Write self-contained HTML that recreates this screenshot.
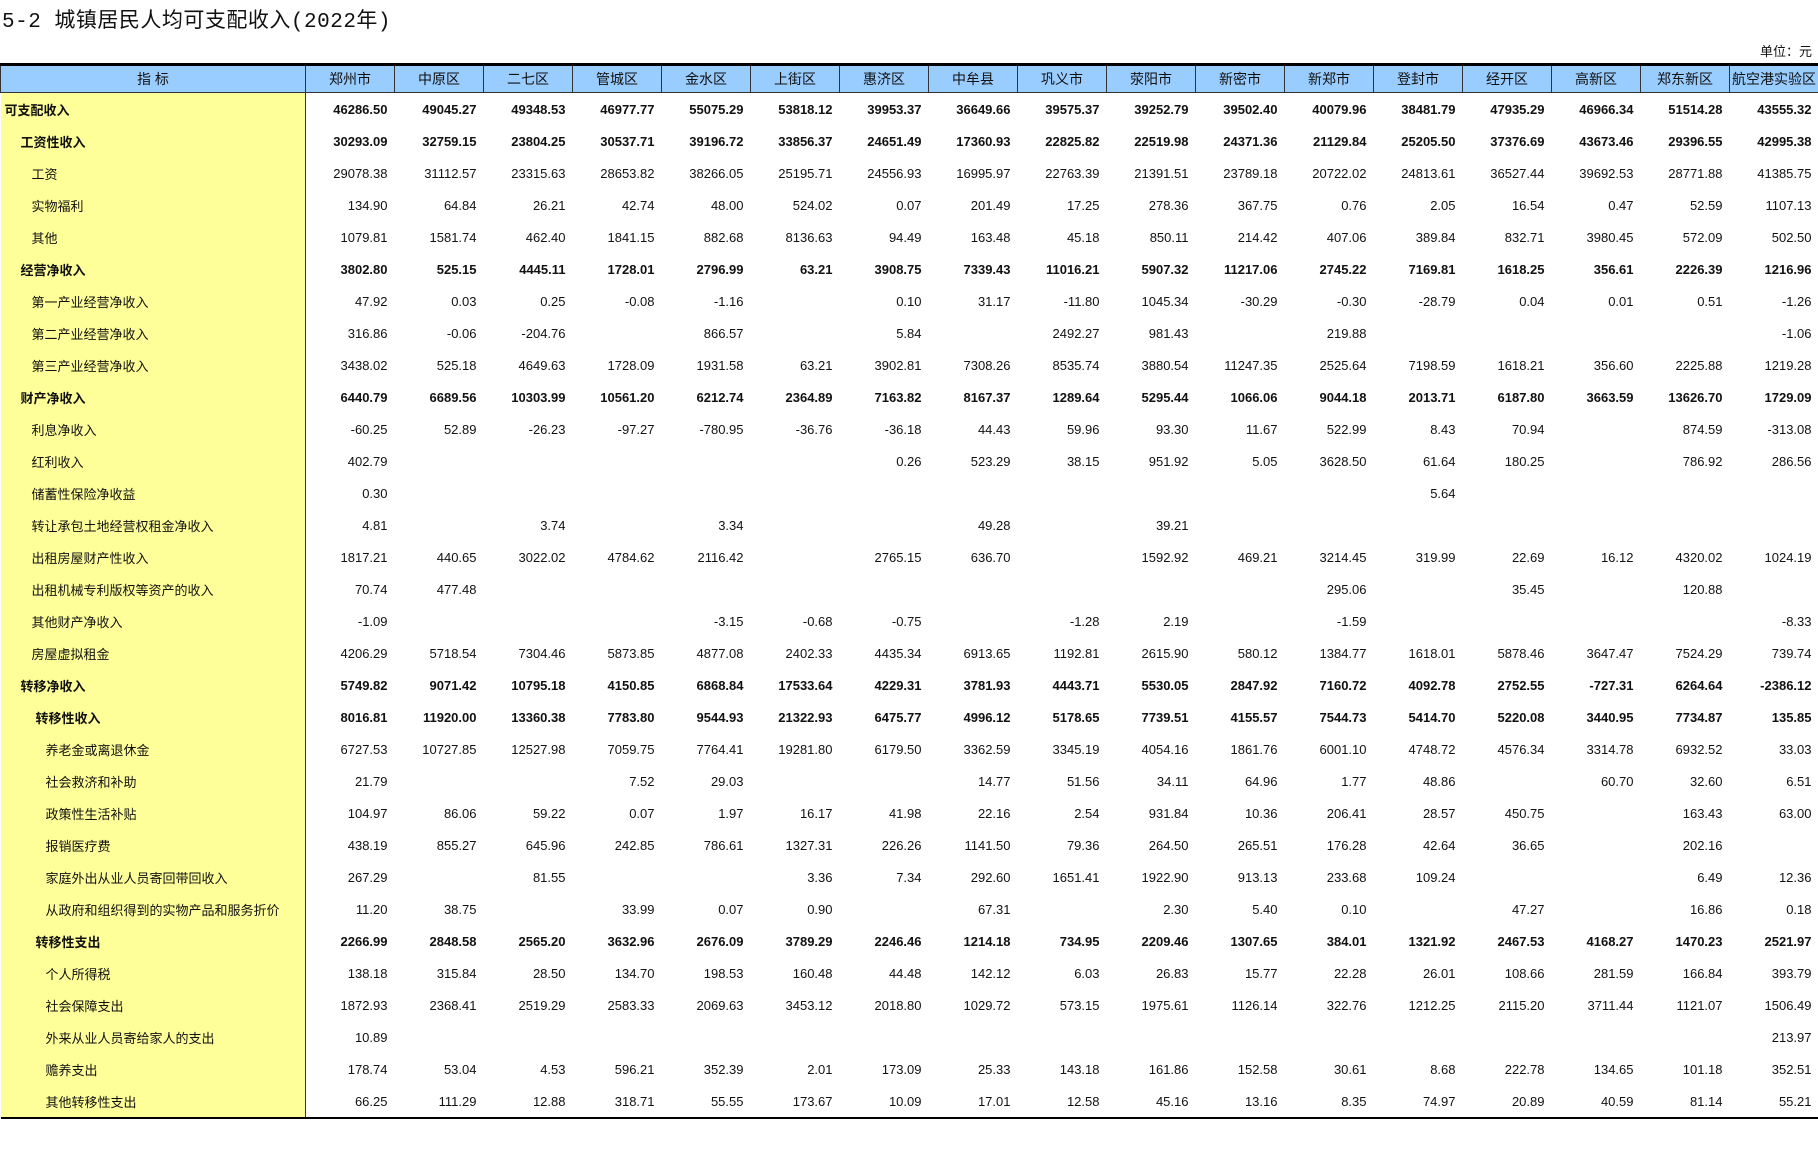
<!DOCTYPE html>
<html><head><meta charset="utf-8">
<style>
html,body{margin:0;padding:0;background:#fff;width:1818px;height:1150px;overflow:hidden}
body{font-family:"Liberation Sans","Noto Sans CJK SC",sans-serif;color:#111}
.title{position:absolute;left:2px;top:4px;font-size:21px;font-family:"Liberation Mono","Noto Sans CJK SC",monospace;letter-spacing:0.5px}
.unit{position:absolute;right:6px;top:41px;font-size:13px}
table{position:absolute;left:0;top:63px;border-collapse:collapse;table-layout:fixed;width:1818px}
th{background:#99ccff;height:26px;font-weight:normal;font-size:14px;border:1px solid #333;border-top:3px solid #000;padding:0}
td{height:32px;padding:0 7px 0 0;text-align:right;font-size:13px;white-space:nowrap}
td.n{background:#ffff99;text-align:left;border-right:1px solid #333;padding:0}
tr.b td{font-weight:bold}
tbody tr:last-child td{border-bottom:2px solid #000}
.l0{padding-left:4px!important}.l1{padding-left:20px!important}.l2{padding-left:31px!important}.l3{padding-left:35px!important}.l4{padding-left:45px!important}
</style></head><body>
<div class="title">5-2 城镇居民人均可支配收入(2022年)</div>
<div class="unit">单位：元</div>
<table>
<colgroup><col style="width:305px"><col span="17" style="width:89px"></colgroup>
<thead><tr><th>指 标</th><th>郑州市</th><th>中原区</th><th>二七区</th><th>管城区</th><th>金水区</th><th>上街区</th><th>惠济区</th><th>中牟县</th><th>巩义市</th><th>荥阳市</th><th>新密市</th><th>新郑市</th><th>登封市</th><th>经开区</th><th>高新区</th><th>郑东新区</th><th>航空港实验区</th></tr></thead>
<tbody>
<tr class="b"><td class="n l0">可支配收入</td><td>46286.50</td><td>49045.27</td><td>49348.53</td><td>46977.77</td><td>55075.29</td><td>53818.12</td><td>39953.37</td><td>36649.66</td><td>39575.37</td><td>39252.79</td><td>39502.40</td><td>40079.96</td><td>38481.79</td><td>47935.29</td><td>46966.34</td><td>51514.28</td><td>43555.32</td></tr>
<tr class="b"><td class="n l1">工资性收入</td><td>30293.09</td><td>32759.15</td><td>23804.25</td><td>30537.71</td><td>39196.72</td><td>33856.37</td><td>24651.49</td><td>17360.93</td><td>22825.82</td><td>22519.98</td><td>24371.36</td><td>21129.84</td><td>25205.50</td><td>37376.69</td><td>43673.46</td><td>29396.55</td><td>42995.38</td></tr>
<tr><td class="n l2">工资</td><td>29078.38</td><td>31112.57</td><td>23315.63</td><td>28653.82</td><td>38266.05</td><td>25195.71</td><td>24556.93</td><td>16995.97</td><td>22763.39</td><td>21391.51</td><td>23789.18</td><td>20722.02</td><td>24813.61</td><td>36527.44</td><td>39692.53</td><td>28771.88</td><td>41385.75</td></tr>
<tr><td class="n l2">实物福利</td><td>134.90</td><td>64.84</td><td>26.21</td><td>42.74</td><td>48.00</td><td>524.02</td><td>0.07</td><td>201.49</td><td>17.25</td><td>278.36</td><td>367.75</td><td>0.76</td><td>2.05</td><td>16.54</td><td>0.47</td><td>52.59</td><td>1107.13</td></tr>
<tr><td class="n l2">其他</td><td>1079.81</td><td>1581.74</td><td>462.40</td><td>1841.15</td><td>882.68</td><td>8136.63</td><td>94.49</td><td>163.48</td><td>45.18</td><td>850.11</td><td>214.42</td><td>407.06</td><td>389.84</td><td>832.71</td><td>3980.45</td><td>572.09</td><td>502.50</td></tr>
<tr class="b"><td class="n l1">经营净收入</td><td>3802.80</td><td>525.15</td><td>4445.11</td><td>1728.01</td><td>2796.99</td><td>63.21</td><td>3908.75</td><td>7339.43</td><td>11016.21</td><td>5907.32</td><td>11217.06</td><td>2745.22</td><td>7169.81</td><td>1618.25</td><td>356.61</td><td>2226.39</td><td>1216.96</td></tr>
<tr><td class="n l2">第一产业经营净收入</td><td>47.92</td><td>0.03</td><td>0.25</td><td>-0.08</td><td>-1.16</td><td></td><td>0.10</td><td>31.17</td><td>-11.80</td><td>1045.34</td><td>-30.29</td><td>-0.30</td><td>-28.79</td><td>0.04</td><td>0.01</td><td>0.51</td><td>-1.26</td></tr>
<tr><td class="n l2">第二产业经营净收入</td><td>316.86</td><td>-0.06</td><td>-204.76</td><td></td><td>866.57</td><td></td><td>5.84</td><td></td><td>2492.27</td><td>981.43</td><td></td><td>219.88</td><td></td><td></td><td></td><td></td><td>-1.06</td></tr>
<tr><td class="n l2">第三产业经营净收入</td><td>3438.02</td><td>525.18</td><td>4649.63</td><td>1728.09</td><td>1931.58</td><td>63.21</td><td>3902.81</td><td>7308.26</td><td>8535.74</td><td>3880.54</td><td>11247.35</td><td>2525.64</td><td>7198.59</td><td>1618.21</td><td>356.60</td><td>2225.88</td><td>1219.28</td></tr>
<tr class="b"><td class="n l1">财产净收入</td><td>6440.79</td><td>6689.56</td><td>10303.99</td><td>10561.20</td><td>6212.74</td><td>2364.89</td><td>7163.82</td><td>8167.37</td><td>1289.64</td><td>5295.44</td><td>1066.06</td><td>9044.18</td><td>2013.71</td><td>6187.80</td><td>3663.59</td><td>13626.70</td><td>1729.09</td></tr>
<tr><td class="n l2">利息净收入</td><td>-60.25</td><td>52.89</td><td>-26.23</td><td>-97.27</td><td>-780.95</td><td>-36.76</td><td>-36.18</td><td>44.43</td><td>59.96</td><td>93.30</td><td>11.67</td><td>522.99</td><td>8.43</td><td>70.94</td><td></td><td>874.59</td><td>-313.08</td></tr>
<tr><td class="n l2">红利收入</td><td>402.79</td><td></td><td></td><td></td><td></td><td></td><td>0.26</td><td>523.29</td><td>38.15</td><td>951.92</td><td>5.05</td><td>3628.50</td><td>61.64</td><td>180.25</td><td></td><td>786.92</td><td>286.56</td></tr>
<tr><td class="n l2">储蓄性保险净收益</td><td>0.30</td><td></td><td></td><td></td><td></td><td></td><td></td><td></td><td></td><td></td><td></td><td></td><td>5.64</td><td></td><td></td><td></td><td></td></tr>
<tr><td class="n l2">转让承包土地经营权租金净收入</td><td>4.81</td><td></td><td>3.74</td><td></td><td>3.34</td><td></td><td></td><td>49.28</td><td></td><td>39.21</td><td></td><td></td><td></td><td></td><td></td><td></td><td></td></tr>
<tr><td class="n l2">出租房屋财产性收入</td><td>1817.21</td><td>440.65</td><td>3022.02</td><td>4784.62</td><td>2116.42</td><td></td><td>2765.15</td><td>636.70</td><td></td><td>1592.92</td><td>469.21</td><td>3214.45</td><td>319.99</td><td>22.69</td><td>16.12</td><td>4320.02</td><td>1024.19</td></tr>
<tr><td class="n l2">出租机械专利版权等资产的收入</td><td>70.74</td><td>477.48</td><td></td><td></td><td></td><td></td><td></td><td></td><td></td><td></td><td></td><td>295.06</td><td></td><td>35.45</td><td></td><td>120.88</td><td></td></tr>
<tr><td class="n l2">其他财产净收入</td><td>-1.09</td><td></td><td></td><td></td><td>-3.15</td><td>-0.68</td><td>-0.75</td><td></td><td>-1.28</td><td>2.19</td><td></td><td>-1.59</td><td></td><td></td><td></td><td></td><td>-8.33</td></tr>
<tr><td class="n l2">房屋虚拟租金</td><td>4206.29</td><td>5718.54</td><td>7304.46</td><td>5873.85</td><td>4877.08</td><td>2402.33</td><td>4435.34</td><td>6913.65</td><td>1192.81</td><td>2615.90</td><td>580.12</td><td>1384.77</td><td>1618.01</td><td>5878.46</td><td>3647.47</td><td>7524.29</td><td>739.74</td></tr>
<tr class="b"><td class="n l1">转移净收入</td><td>5749.82</td><td>9071.42</td><td>10795.18</td><td>4150.85</td><td>6868.84</td><td>17533.64</td><td>4229.31</td><td>3781.93</td><td>4443.71</td><td>5530.05</td><td>2847.92</td><td>7160.72</td><td>4092.78</td><td>2752.55</td><td>-727.31</td><td>6264.64</td><td>-2386.12</td></tr>
<tr class="b"><td class="n l3">转移性收入</td><td>8016.81</td><td>11920.00</td><td>13360.38</td><td>7783.80</td><td>9544.93</td><td>21322.93</td><td>6475.77</td><td>4996.12</td><td>5178.65</td><td>7739.51</td><td>4155.57</td><td>7544.73</td><td>5414.70</td><td>5220.08</td><td>3440.95</td><td>7734.87</td><td>135.85</td></tr>
<tr><td class="n l4">养老金或离退休金</td><td>6727.53</td><td>10727.85</td><td>12527.98</td><td>7059.75</td><td>7764.41</td><td>19281.80</td><td>6179.50</td><td>3362.59</td><td>3345.19</td><td>4054.16</td><td>1861.76</td><td>6001.10</td><td>4748.72</td><td>4576.34</td><td>3314.78</td><td>6932.52</td><td>33.03</td></tr>
<tr><td class="n l4">社会救济和补助</td><td>21.79</td><td></td><td></td><td>7.52</td><td>29.03</td><td></td><td></td><td>14.77</td><td>51.56</td><td>34.11</td><td>64.96</td><td>1.77</td><td>48.86</td><td></td><td>60.70</td><td>32.60</td><td>6.51</td></tr>
<tr><td class="n l4">政策性生活补贴</td><td>104.97</td><td>86.06</td><td>59.22</td><td>0.07</td><td>1.97</td><td>16.17</td><td>41.98</td><td>22.16</td><td>2.54</td><td>931.84</td><td>10.36</td><td>206.41</td><td>28.57</td><td>450.75</td><td></td><td>163.43</td><td>63.00</td></tr>
<tr><td class="n l4">报销医疗费</td><td>438.19</td><td>855.27</td><td>645.96</td><td>242.85</td><td>786.61</td><td>1327.31</td><td>226.26</td><td>1141.50</td><td>79.36</td><td>264.50</td><td>265.51</td><td>176.28</td><td>42.64</td><td>36.65</td><td></td><td>202.16</td><td></td></tr>
<tr><td class="n l4">家庭外出从业人员寄回带回收入</td><td>267.29</td><td></td><td>81.55</td><td></td><td></td><td>3.36</td><td>7.34</td><td>292.60</td><td>1651.41</td><td>1922.90</td><td>913.13</td><td>233.68</td><td>109.24</td><td></td><td></td><td>6.49</td><td>12.36</td></tr>
<tr><td class="n l4">从政府和组织得到的实物产品和服务折价</td><td>11.20</td><td>38.75</td><td></td><td>33.99</td><td>0.07</td><td>0.90</td><td></td><td>67.31</td><td></td><td>2.30</td><td>5.40</td><td>0.10</td><td></td><td>47.27</td><td></td><td>16.86</td><td>0.18</td></tr>
<tr class="b"><td class="n l3">转移性支出</td><td>2266.99</td><td>2848.58</td><td>2565.20</td><td>3632.96</td><td>2676.09</td><td>3789.29</td><td>2246.46</td><td>1214.18</td><td>734.95</td><td>2209.46</td><td>1307.65</td><td>384.01</td><td>1321.92</td><td>2467.53</td><td>4168.27</td><td>1470.23</td><td>2521.97</td></tr>
<tr><td class="n l4">个人所得税</td><td>138.18</td><td>315.84</td><td>28.50</td><td>134.70</td><td>198.53</td><td>160.48</td><td>44.48</td><td>142.12</td><td>6.03</td><td>26.83</td><td>15.77</td><td>22.28</td><td>26.01</td><td>108.66</td><td>281.59</td><td>166.84</td><td>393.79</td></tr>
<tr><td class="n l4">社会保障支出</td><td>1872.93</td><td>2368.41</td><td>2519.29</td><td>2583.33</td><td>2069.63</td><td>3453.12</td><td>2018.80</td><td>1029.72</td><td>573.15</td><td>1975.61</td><td>1126.14</td><td>322.76</td><td>1212.25</td><td>2115.20</td><td>3711.44</td><td>1121.07</td><td>1506.49</td></tr>
<tr><td class="n l4">外来从业人员寄给家人的支出</td><td>10.89</td><td></td><td></td><td></td><td></td><td></td><td></td><td></td><td></td><td></td><td></td><td></td><td></td><td></td><td></td><td></td><td>213.97</td></tr>
<tr><td class="n l4">赡养支出</td><td>178.74</td><td>53.04</td><td>4.53</td><td>596.21</td><td>352.39</td><td>2.01</td><td>173.09</td><td>25.33</td><td>143.18</td><td>161.86</td><td>152.58</td><td>30.61</td><td>8.68</td><td>222.78</td><td>134.65</td><td>101.18</td><td>352.51</td></tr>
<tr><td class="n l4">其他转移性支出</td><td>66.25</td><td>111.29</td><td>12.88</td><td>318.71</td><td>55.55</td><td>173.67</td><td>10.09</td><td>17.01</td><td>12.58</td><td>45.16</td><td>13.16</td><td>8.35</td><td>74.97</td><td>20.89</td><td>40.59</td><td>81.14</td><td>55.21</td></tr>
</tbody></table>
</body></html>
